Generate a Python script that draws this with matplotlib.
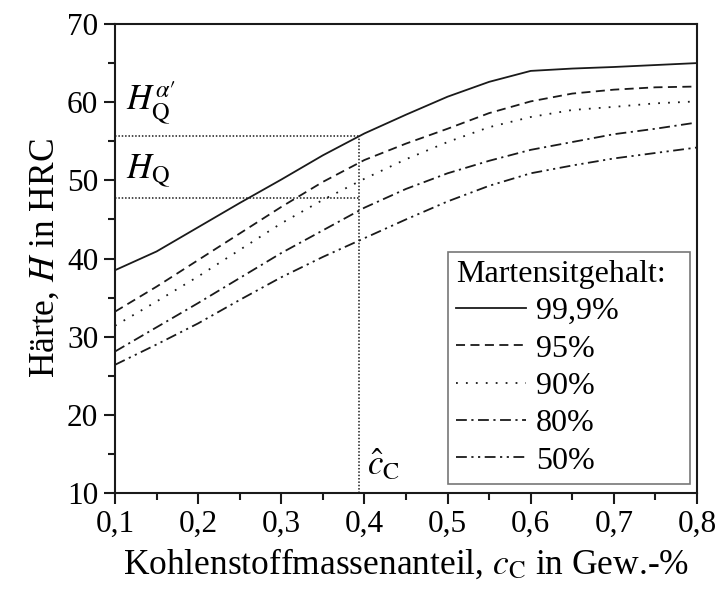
import matplotlib
matplotlib.use("Agg")
import matplotlib.pyplot as plt
import numpy as np

plt.rcParams['font.family'] = ['Liberation Serif', 'DejaVu Serif']
plt.rcParams['mathtext.fontset'] = 'stix'

# Carbon content (wt.-%) and hardness (HRC) for each martensite fraction
carbon = [0.1, 0.15, 0.2, 0.25, 0.3, 0.35, 0.4, 0.45, 0.5, 0.55, 0.6, 0.65, 0.7, 0.75, 0.8]
h_999 = [38.5, 40.9, 44.0, 47.1, 50.1, 53.2, 56.0, 58.4, 60.7, 62.6, 64.0, 64.3, 64.5, 64.75, 65.0]
h_95 = [33.2, 36.4, 39.8, 43.2, 46.6, 49.8, 52.6, 54.7, 56.6, 58.6, 60.1, 61.1, 61.6, 61.9, 62.0]
h_90 = [31.4, 34.5, 37.7, 41.1, 44.5, 47.5, 50.2, 52.7, 54.9, 56.8, 58.1, 59.0, 59.4, 59.85, 60.1]
h_80 = [28.1, 31.2, 34.3, 37.5, 40.7, 43.6, 46.5, 48.9, 50.9, 52.5, 53.9, 54.9, 55.9, 56.6, 57.4]
h_50 = [26.4, 29.0, 31.7, 34.7, 37.6, 40.2, 42.6, 45.0, 47.3, 49.3, 50.9, 51.9, 52.8, 53.5, 54.2]

series_labels = ['99,9%', '95%', '90%', '80%', '50%']

# Reading of the critical carbon content
c_hat = 0.393
hq_alpha = 55.7
hq = 47.7

fig = plt.figure(figsize=(7.17, 5.95), dpi=100)
ax = fig.add_axes([115/717, 1-493/595, (697-115)/717, (493-24)/595])

styles = [
    dict(linestyle='-'),
    dict(linestyle=(0, (5, 3))),
    dict(linestyle=(0, (1, 4.5))),
    dict(linestyle=(0, (6, 2.5, 1.2, 2.5))),
    dict(linestyle=(0, (6, 2.5, 1.2, 2.5, 1.2, 2.5))),
]
data = [h_999, h_95, h_90, h_80, h_50]
for vals, lab, st in zip(data, series_labels, styles):
    ax.plot(carbon, vals, color='#1a1a1a', lw=1.3, label=lab, **st)

# Reference lines for quench hardness
dot = dict(color='#1a1a1a', lw=1.1, linestyle=(0, (1, 1.2)))
ax.plot([0.1, c_hat], [hq_alpha, hq_alpha], **dot)
ax.plot([0.1, c_hat], [hq, hq], **dot)
ax.plot([c_hat, c_hat], [10, hq_alpha], **dot)

ax.text(0.113, 56.8, r"$H_\mathrm{Q}^{\alpha′}$", fontsize=25, ha='left', va='bottom')
ax.text(0.113, 48.8, r"$H_\mathrm{Q}$", fontsize=25, ha='left', va='bottom')
ax.text(c_hat + 0.01, 11.3, r"$\hat{c}_\mathrm{C}$", fontsize=25, ha='left', va='bottom')

ax.set_xlim(0.1, 0.8)
ax.set_ylim(10, 70)
ax.set_xticks(np.arange(0.1, 0.81, 0.1))
ax.set_xticklabels(['0,1', '0,2', '0,3', '0,4', '0,5', '0,6', '0,7', '0,8'])
ax.set_xticks(np.arange(0.15, 0.8, 0.1), minor=True)
ax.set_yticks(np.arange(10, 71, 10))
ax.set_yticks(np.arange(15, 70, 10), minor=True)
ax.tick_params(which='major', direction='out', length=8, width=1.5, labelsize=22.5, pad=4, color='#1a1a1a')
ax.tick_params(which='minor', direction='out', length=5, width=1.5, color='#1a1a1a')
for s in ax.spines.values():
    s.set_linewidth(1.5)
    s.set_color('#1a1a1a')

ax.set_xlabel(r"Kohlenstoffmassenanteil, $c_\mathrm{C}$ in Gew.-%", fontsize=25.5, labelpad=6)
ax.set_ylabel(r"Härte, $H$ in HRC", fontsize=25.5, labelpad=4)

# Legend box stretched over a fixed region in the lower right corner
leg_x0 = (448 - 115) / 582
leg_w = (690 - 448) / 582
leg = ax.legend(loc='lower left', bbox_to_anchor=(leg_x0, 0.02, leg_w, 0.5), mode='expand',
                fontsize=23, title='Martensitgehalt:', title_fontsize=23, alignment='left',
                handlelength=2.2, handletextpad=0.3, labelspacing=0.25,
                borderpad=0.25, borderaxespad=0, fancybox=False, frameon=True)
leg.get_frame().set_edgecolor('#555555')
leg.get_frame().set_linewidth(1.2)

fig.savefig('out.png', dpi=100)
